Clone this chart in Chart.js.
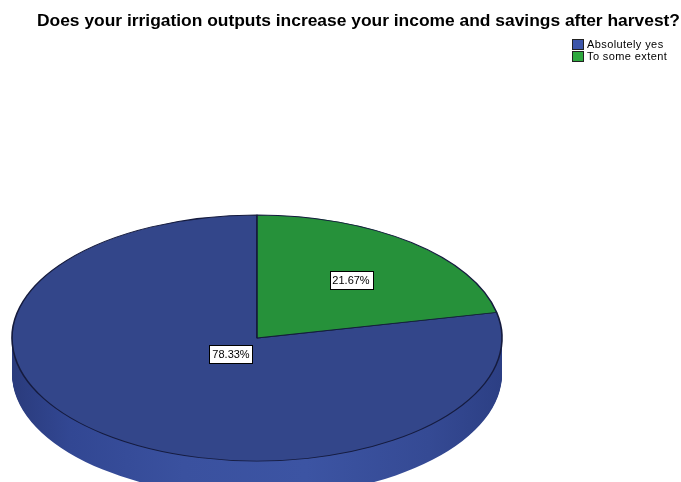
<!DOCTYPE html>
<html>
<head>
<meta charset="utf-8">
<script src="https://cdn.jsdelivr.net/npm/chart.js@4.4.1/dist/chart.umd.min.js"></script>
<style>
  html, body { margin: 0; padding: 0; background: #fff; }
  #wrap { position: relative; width: 681px; height: 482px; overflow: hidden; background: #fff; }
  #c { position: absolute; left: 0; top: 0; }
  #title { position: absolute; left: 358px; top: 12px; transform-origin: 0 0;
           font-family: "Liberation Sans", Arial, sans-serif; font-weight: bold; font-size: 16px; color: #000; white-space: nowrap; }
  #legend { position: absolute; left: 572px; top: 38px; font-family: "Liberation Sans", Arial, sans-serif; font-size: 11px; letter-spacing: 0.4px; color: #000; }
  .li { height: 12px; line-height: 12px; white-space: nowrap; display: flex; align-items: center; }
  .sw { width: 10px; height: 9px; border: 1px solid #222; margin-right: 3px; flex: none; }
</style>
</head>
<body>
<div id="wrap">
  <canvas id="c" width="681" height="482"></canvas>
  <div id="title"></div>
  <div id="legend"></div>
</div>
<script>
// ---- data ----
const chartTitle = "Does your irrigation outputs increase your income and savings after harvest?";
const categories = ["Absolutely yes", "To some extent"];
const percentages = [78.33, 21.67];

// ---- style ----
const topColors = ["#33468a", "#26913a"];
const legendColors = ["#3d56aa", "#2ea83f"];
const sideColorsGreen = "#1e7530";
const labelRadiusFrac = [0.17, 0.61];
const ellipse = { cx: 257, cy: 338, rx: 245, ry: 123, depth: 36 };
const titleSpan = { left: 37, right: 680 };

// title (HTML text), stretched to the reference width
const titleEl = document.getElementById('title');
titleEl.textContent = chartTitle;
const tw = titleEl.getBoundingClientRect().width;
const sx = (titleSpan.right - titleSpan.left) / tw;
titleEl.style.left = titleSpan.left + 'px';
titleEl.style.transform = 'scaleX(' + sx + ')';

// legend (HTML text)
const legendEl = document.getElementById('legend');
categories.forEach((c, i) => {
  const row = document.createElement('div');
  row.className = 'li';
  const sw = document.createElement('span');
  sw.className = 'sw';
  sw.style.background = legendColors[i];
  const t = document.createElement('span');
  t.textContent = c;
  row.appendChild(sw); row.appendChild(t);
  legendEl.appendChild(row);
});

const total = percentages.reduce((a, b) => a + b, 0);
// first slice (blue) starts where the second (green) ends; green starts at 12 o'clock
const rotation = percentages[1] / total * 360;

function applyTilt(ctx, arc) {
  const R = arc.outerRadius;
  ctx.translate(ellipse.cx, ellipse.cy);
  ctx.scale(ellipse.rx / R, ellipse.ry / R);
  ctx.translate(-arc.x, -arc.y);
}

const tiltPlugin = {
  id: 'tilt3d',
  beforeDatasetsDraw(chart) {
    const ctx = chart.ctx;
    const arcs = chart.getDatasetMeta(0).data;
    const a0 = arcs[0];
    const R = a0.outerRadius;
    const grad = ctx.createLinearGradient(a0.x - R, 0, a0.x + R, 0);
    grad.addColorStop(0, '#2a3b7c');
    grad.addColorStop(0.12, '#324793');
    grad.addColorStop(0.35, '#3a519f');
    grad.addColorStop(0.6, '#3c54a3');
    grad.addColorStop(0.85, '#354a94');
    grad.addColorStop(1, '#2c3f84');
    for (let d = ellipse.depth; d >= 1; d--) {
      arcs.forEach((arc, i) => {
        const saved = arc.options;
        arc.options = Object.assign({}, saved, {
          backgroundColor: i === 0 ? grad : sideColorsGreen,
          borderWidth: 0, borderColor: 'rgba(0,0,0,0)'
        });
        ctx.save();
        ctx.translate(0, d);
        applyTilt(ctx, arc);
        arc.draw(ctx);
        ctx.restore();
        arc.options = saved;
      });
    }
    ctx.save();
    applyTilt(ctx, a0);
  },
  afterDatasetsDraw(chart) {
    const ctx = chart.ctx;
    ctx.restore();
    const arcs = chart.getDatasetMeta(0).data;
    ctx.save();
    ctx.font = '11px "Liberation Sans", Arial, sans-serif';
    ctx.textAlign = 'center';
    ctx.textBaseline = 'middle';
    arcs.forEach((arc, i) => {
      const mid = (arc.startAngle + arc.endAngle) / 2;
      const f = labelRadiusFrac[i];
      const x = ellipse.cx + ellipse.rx * f * Math.cos(mid);
      const y = ellipse.cy + ellipse.ry * f * Math.sin(mid);
      const txt = percentages[i].toFixed(2) + '%';
      const w = Math.round(ctx.measureText(txt).width) + 6;
      const h = 18;
      const bx = Math.round(x - w / 2) + 0.5, by = Math.round(y - h / 2) + 0.5;
      ctx.fillStyle = '#fff';
      ctx.fillRect(bx, by, w, h);
      ctx.strokeStyle = '#000';
      ctx.lineWidth = 1;
      ctx.strokeRect(bx, by, w, h);
      ctx.fillStyle = '#000';
      ctx.fillText(txt, Math.round(x), Math.round(y) + 1);
    });
    ctx.restore();
  }
};

new Chart(document.getElementById('c'), {
  type: 'pie',
  data: {
    labels: categories,
    datasets: [{
      data: percentages,
      backgroundColor: topColors,
      borderColor: '#151b3e',
      borderWidth: 1.6,
      hoverOffset: 0,
      clip: false
    }]
  },
  options: {
    responsive: false,
    animation: false,
    events: [],
    rotation: rotation,
    layout: { padding: { left: 12, right: 187, top: 0, bottom: 0 } },
    plugins: {
      legend: { display: false },
      title: { display: false, text: chartTitle },
      tooltip: { enabled: false }
    }
  },
  plugins: [tiltPlugin]
});
</script>
</body>
</html>
